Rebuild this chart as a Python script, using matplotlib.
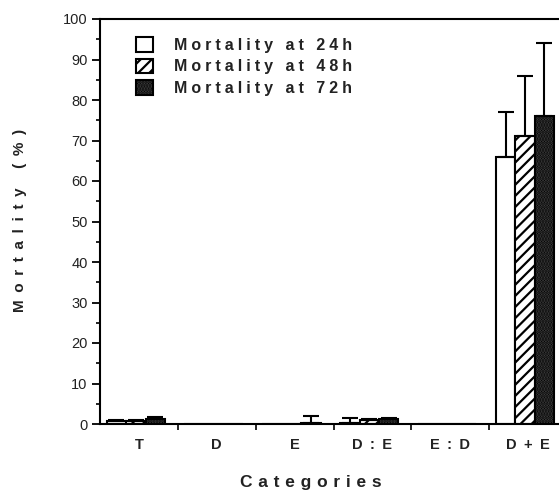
import numpy as np
import matplotlib
matplotlib.use("Agg")
import matplotlib.pyplot as plt
from matplotlib.ticker import MultipleLocator, FixedLocator

# Mean mortality (%) per treatment category, with upper standard errors
categories = ["T", "D", "E", "D:E", "E:D", "D+E"]
mort_24h = [0.7, 0.0, 0.0, 0.3, 0.0, 66.0]
mort_48h = [0.8, 0.0, 0.0, 1.0, 0.0, 71.0]
mort_72h = [1.3, 0.0, 0.3, 1.3, 0.0, 76.0]
err_24h = [0.3, 0.0, 0.0, 1.3, 0.0, 11.0]
err_48h = [0.3, 0.0, 0.0, 0.3, 0.0, 15.0]
err_72h = [0.4, 0.0, 1.6, 0.3, 0.0, 18.0]
series_labels = ["Mortality at 24h", "Mortality at 48h", "Mortality at 72h"]

FONT = ["Liberation Sans", "DejaVu Sans"]
plt.rcParams["font.family"] = FONT
plt.rcParams["hatch.linewidth"] = 1.6


def tracked(s, gap="\u2005"):
    """Letter-spaced version of a label."""
    return gap.join(s)


W, H = 559, 504
fig = plt.figure(figsize=(W / 100, H / 100), dpi=100)
ax = fig.add_axes([100 / W, 80 / H, 467 / W, 405 / H])

x = np.arange(len(categories))
width = 0.25
offsets = [-0.29, -0.04, 0.21]
styles = [dict(facecolor="white"),
          dict(facecolor="white", hatch="///"),
          dict(facecolor="#4a4a4a", hatch="......")]

handles = []
for vals, errs, off, st, lab in zip([mort_24h, mort_48h, mort_72h],
                                    [err_24h, err_48h, err_72h],
                                    offsets, styles, series_labels):
    bars = ax.bar(x + off, vals, width, edgecolor="black", linewidth=1.5,
                  label=tracked(lab), **st)
    handles.append(bars)
    # upper error bars only, where an error exists
    vals = np.asarray(vals)
    errs = np.asarray(errs)
    m = errs > 0
    ax.errorbar(x[m] + off, vals[m],
                yerr=[np.zeros(m.sum()), errs[m]],
                fmt="none", ecolor="black", elinewidth=1.5,
                capsize=6, capthick=1.5)

ax.set_xlim(-0.5, len(categories) - 0.5)
ax.set_ylim(0, 100)

ax.spines["right"].set_visible(False)
for sp in ["left", "bottom", "top"]:
    ax.spines[sp].set_linewidth(1.5)

ax.yaxis.set_major_locator(MultipleLocator(10))
ax.yaxis.set_minor_locator(MultipleLocator(5))
ax.tick_params(axis="y", which="major", direction="out", length=6, width=1.3,
               pad=3, labelsize=10.5)
ax.tick_params(axis="y", which="minor", direction="out", length=3, width=1.2)

ax.set_xticks(x)
ax.set_xticklabels([tracked(c, "\u2002") for c in categories],
                   fontsize=10.5, fontweight="bold")
ax.xaxis.set_minor_locator(FixedLocator(np.arange(0.5, len(categories) - 0.5, 1)))
ax.tick_params(axis="x", which="major", length=0, pad=10)
ax.tick_params(axis="x", which="minor", direction="out", length=4, width=1.2)

for lab in ax.get_yticklabels():
    lab.set_color("#222222")
for lab in ax.get_xticklabels():
    lab.set_color("#222222")

fig.text(20 / W, 1 - 220 / H, tracked("Mortality (%)", "\u2002"), rotation=90,
         ha="center", va="center", fontsize=11, fontweight="bold",
         color="#222222")
fig.text(311 / W, 1 - 482 / H, tracked("Categories", "\u2004"),
         ha="center", va="center", fontsize=12.5, fontweight="bold",
         color="#222222")

leg = ax.legend(handles=handles, loc="upper left",
                bbox_to_anchor=(136 / W, 1 - 37 / H),
                bbox_transform=fig.transFigure, frameon=False,
                prop={"family": FONT, "weight": "bold", "size": 11.5},
                handlelength=1.05, handleheight=1.05, handletextpad=1.35,
                labelspacing=0.36, borderpad=0, borderaxespad=0)
for t in leg.get_texts():
    t.set_color("#222222")

fig.savefig("out.png", dpi=100)
